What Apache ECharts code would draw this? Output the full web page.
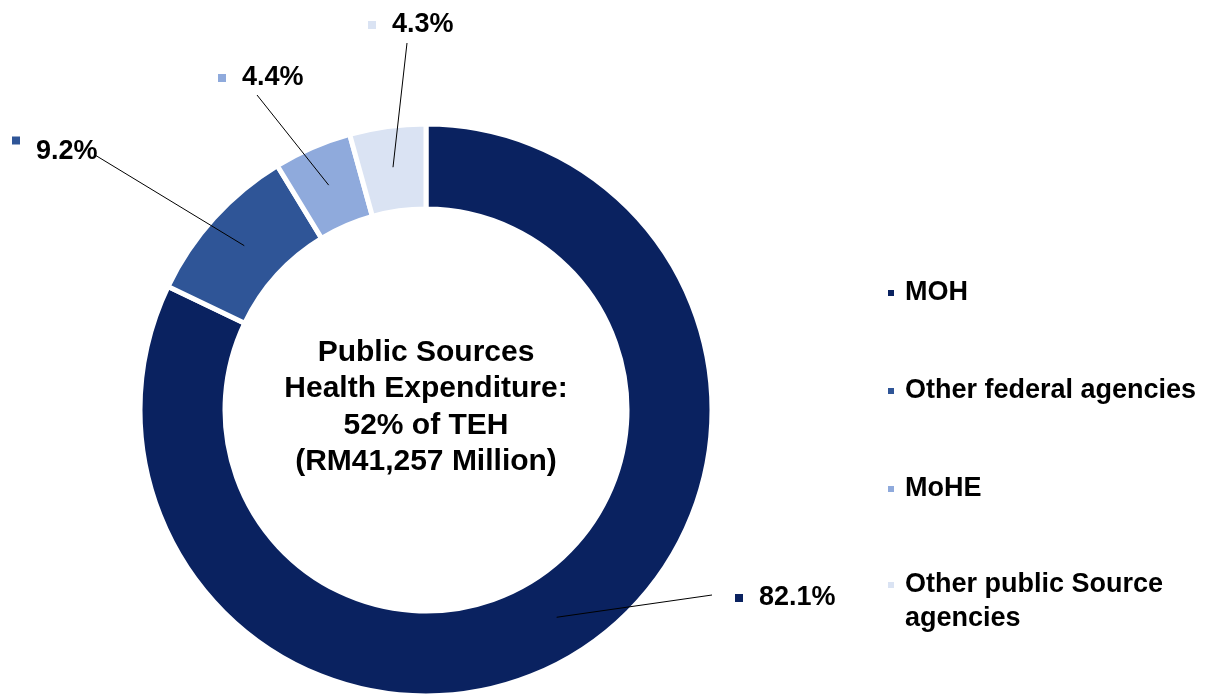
<!DOCTYPE html>
<html>
<head>
<meta charset="utf-8">
<title>Public Sources Health Expenditure</title>
<script src="https://cdn.jsdelivr.net/npm/echarts@6/dist/echarts.min.js"></script>
<style>
  html, body {
    margin: 0;
    padding: 0;
    background: #ffffff;
  }
  #chart {
    width: 1215px;
    height: 695px;
  }
</style>
</head>
<body>
<div id="chart"></div>
<script>
// data
const agencies = ['MOH', 'Other federal agencies', 'MoHE', 'Other public Source agencies']
const shares = [82.1, 9.2, 4.4, 4.3]
const centerLines = ['Public Sources', 'Health Expenditure:', '52% of TEH', '(RM41,257 Million)']

const colors = ['#0a2260', '#2f5597', '#8faadc', '#dae3f3']
const font = '"Liberation Sans", Arial, sans-serif'

// where each percentage label sits (marker left edge, text middle) and where its line ends
const labelAt = [[735, 598], [12, 152], [218, 78], [368, 25]]
const lineEnd = [[712, 595], [95, 155], [257, 95], [407, 43]]

const chart = echarts.init(document.getElementById('chart'))

const rich = {
  v: {
    fontFamily: font,
    fontSize: 27,
    fontWeight: 'bold',
    color: '#000',
    lineHeight: 31,
    padding: [0, 0, 0, 16]
  }
}
colors.forEach((c, i) => {
  rich['m' + i] = {width: 8, height: 8, backgroundColor: c}
  rich['t' + i] = {width: 8, height: 8, backgroundColor: c, verticalAlign: 'top'}
})

const pieData = agencies.map((name, i) => ({name: name, value: shares[i]}))

const legendText = {
  fontFamily: font,
  fontSize: 27,
  fontWeight: 'bold',
  color: '#000',
  lineHeight: 34,
  padding: [0, 0, 0, 5]
}

const option = {
  animation: false,
  color: colors,
  title: {
    text: centerLines.join('\n'),
    left: 426,
    top: 334,
    padding: 0,
    textAlign: 'center',
    textStyle: {
      fontFamily: font,
      fontSize: 30,
      fontWeight: 'bold',
      color: '#000',
      lineHeight: 36.5
    }
  },
  legend: [
    {
      orient: 'vertical',
      left: 886,
      top: 276,
      padding: 0,
      icon: 'rect',
      itemWidth: 8,
      itemHeight: 8,
      itemGap: 64,
      selectedMode: false,
      data: agencies.slice(0, 3),
      textStyle: legendText
    },
    {
      // two-line entry: blank first line keeps the marker level with "Other public Source"
      orient: 'vertical',
      left: 886,
      top: 534,
      padding: 0,
      icon: 'rect',
      itemWidth: 8,
      itemHeight: 8,
      selectedMode: false,
      data: agencies.slice(3),
      formatter: name => '\n' + name.replace(' agencies', '\nagencies'),
      textStyle: legendText
    }
  ],
  series: [
    {
      name: 'Public sources',
      type: 'pie',
      center: [426, 410],
      radius: [201, 286],
      startAngle: 90,
      clockwise: true,
      silent: true,
      label: {show: false},
      labelLine: {show: false},
      itemStyle: {
        borderColor: '#ffffff',
        borderWidth: 5
      },
      data: pieData
    },
    {
      // invisible ring-middle copy, only carries the percentage labels
      name: 'labels',
      type: 'pie',
      z: 5,
      center: [426, 410],
      radius: [0, 245],
      startAngle: 90,
      clockwise: true,
      silent: true,
      avoidLabelOverlap: false,
      itemStyle: {color: 'rgba(0,0,0,0)', borderWidth: 0},
      label: {
        show: true,
        position: 'outside',
        formatter: p => '{' + (p.dataIndex === 1 ? 't' : 'm') + p.dataIndex + '|}{v|' + p.value.toFixed(1) + '%}',
        rich: rich
      },
      labelLine: {
        show: true,
        length: 10,
        length2: 10,
        lineStyle: {color: '#000', width: 1}
      },
      labelLayout: params => {
        const i = params.dataIndex
        const start = params.labelLinePoints ? params.labelLinePoints[0] : lineEnd[i]
        return {
          x: labelAt[i][0],
          y: labelAt[i][1],
          align: 'left',
          verticalAlign: 'middle',
          labelLinePoints: [start, lineEnd[i]]
        }
      },
      data: pieData
    }
  ]
}

chart.setOption(option)
</script>
</body>
</html>
